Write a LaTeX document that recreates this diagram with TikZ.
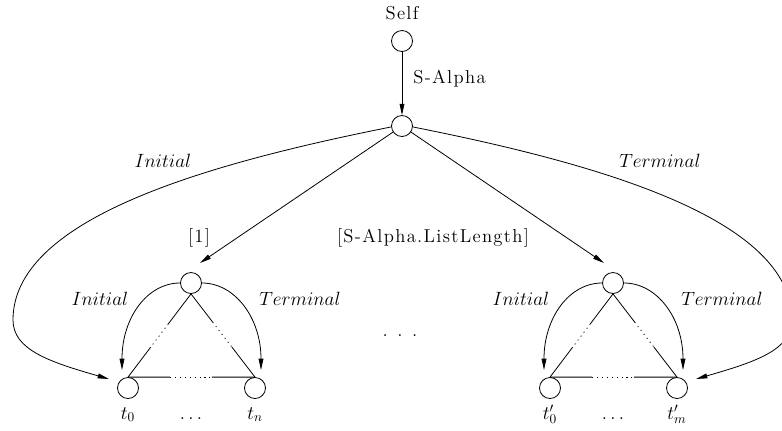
\documentclass[tikz,border=0pt]{standalone}
\usepackage{fontspec}
\usetikzlibrary{arrows.meta,calc}
\def\lsp#1{\lspA#1\relax}
\def\lspA#1{#1\lspB}
\def\lspB#1{\ifx\relax#1\else\kern1pt#1\expandafter\lspB\fi}
\begin{document}
\begin{tikzpicture}[x=0.75pt,y=-0.75pt,
  vtx/.style={circle,draw,line width=0.6pt,inner sep=0pt,minimum size=15.75pt},
  edge/.style={line width=0.6pt},
  arr/.style={edge,-{Triangle[length=8.5pt,width=3.6pt]}},
  dotseg/.style={edge,dash pattern=on 0.8pt off 2.9pt},
  rlab/.style={font=\fontsize{14}{16}\selectfont,inner sep=0pt,anchor=base},
  mlab/.style={font=\fontsize{14.5}{17}\selectfont,inner sep=0pt,anchor=base}]
\useasboundingbox (0,0) rectangle (782,430);
% vertices
\node[vtx] (S) at (402,41) {};
\node[vtx] (M) at (402,126) {};
\node[vtx] (L) at (191,283) {};
\node[vtx] (L0) at (128,388) {};
\node[vtx] (Ln) at (255,388) {};
\node[vtx] (R) at (613,283) {};
\node[vtx] (R0) at (550,388) {};
\node[vtx] (Rm) at (677,388) {};
% labels
\node[rlab] (selfl) at (402,19) {\lsp{Self}};
\node[rlab,anchor=base west] (sal) at (413,83) {\lsp{S-Alpha}};
\node[rlab] (one) at (199,242) {\lsp{[1]}};
\node[rlab] (len) at (433,242) {\lsp{[S-Alpha.ListLength]}};
\node[mlab] (bi) at (163,167) {$Initial$};
\node[mlab] (bt) at (660,167) {$Terminal$};
\node[mlab] (li) at (100,305) {$Initial$};
\node[mlab] (lt) at (300,305) {$Terminal$};
\node[mlab] (ri) at (521,305) {$Initial$};
\node[mlab] (rt) at (722,305) {$Terminal$};
\node[mlab] (mid) at (400,336) {$.\mkern9mu.\mkern9mu.$};
\node[mlab] (lt0) at (128,419) {$t_0$};
\node[mlab] (ld) at (191,419) {$\ldots$};
\node[mlab] (ltn) at (255,419) {$t_n$};
\node[mlab] (rt0) at (550,419) {$t'_0$};
\node[mlab] (rd) at (613,419) {$\ldots$};
\node[mlab] (rtm) at (677,419) {$t'_m$};
% connector end points
\coordinate (tl) at (200,263);
\coordinate (tr) at (604,263);
\coordinate (bl) at (109,379);
\coordinate (br) at (696,379);
\coordinate (lia) at (122,370);
\coordinate (lta) at (261,370);
\coordinate (ria) at (544,370);
\coordinate (rta) at (683,370);
% connectors
\draw[arr] (S) -- (M);
\draw[arr] (M) -- (tl);
\draw[arr] (M) -- (tr);
\draw[arr] (M.185) .. controls (200,165) and (13,220) .. (13,320) .. controls (13,350) and (50,362) .. (bl);
\draw[arr] (M.-5) .. controls (605,165) and (792,220) .. (792,320) .. controls (792,350) and (755,362) .. (br);
\draw[arr] (L.west) .. controls (147,283) and (122,318) .. (lia);
\draw[arr] (L.east) .. controls (235,283) and (261,318) .. (lta);
\draw[arr] (R.west) .. controls (569,283) and (544,318) .. (ria);
\draw[arr] (R.east) .. controls (657,283) and (683,318) .. (rta);
% triangles with dotted middles
\foreach \a/\b/\p/\q in {L.south/L0.north/0.36/0.64, L.south/Ln.north/0.34/0.64, L0.north/Ln.north/0.33/0.66,
                         R.south/R0.north/0.36/0.64, R.south/Rm.north/0.34/0.64, R0.north/Rm.north/0.33/0.66}{
  \draw[edge] (\a) -- ($(\a)!\p!(\b)$);
  \draw[dotseg] ($(\a)!\p!(\b)$) -- ($(\a)!\q!(\b)$);
  \draw[edge] ($(\a)!\q!(\b)$) -- (\b);
}
\end{tikzpicture}
\end{document}
